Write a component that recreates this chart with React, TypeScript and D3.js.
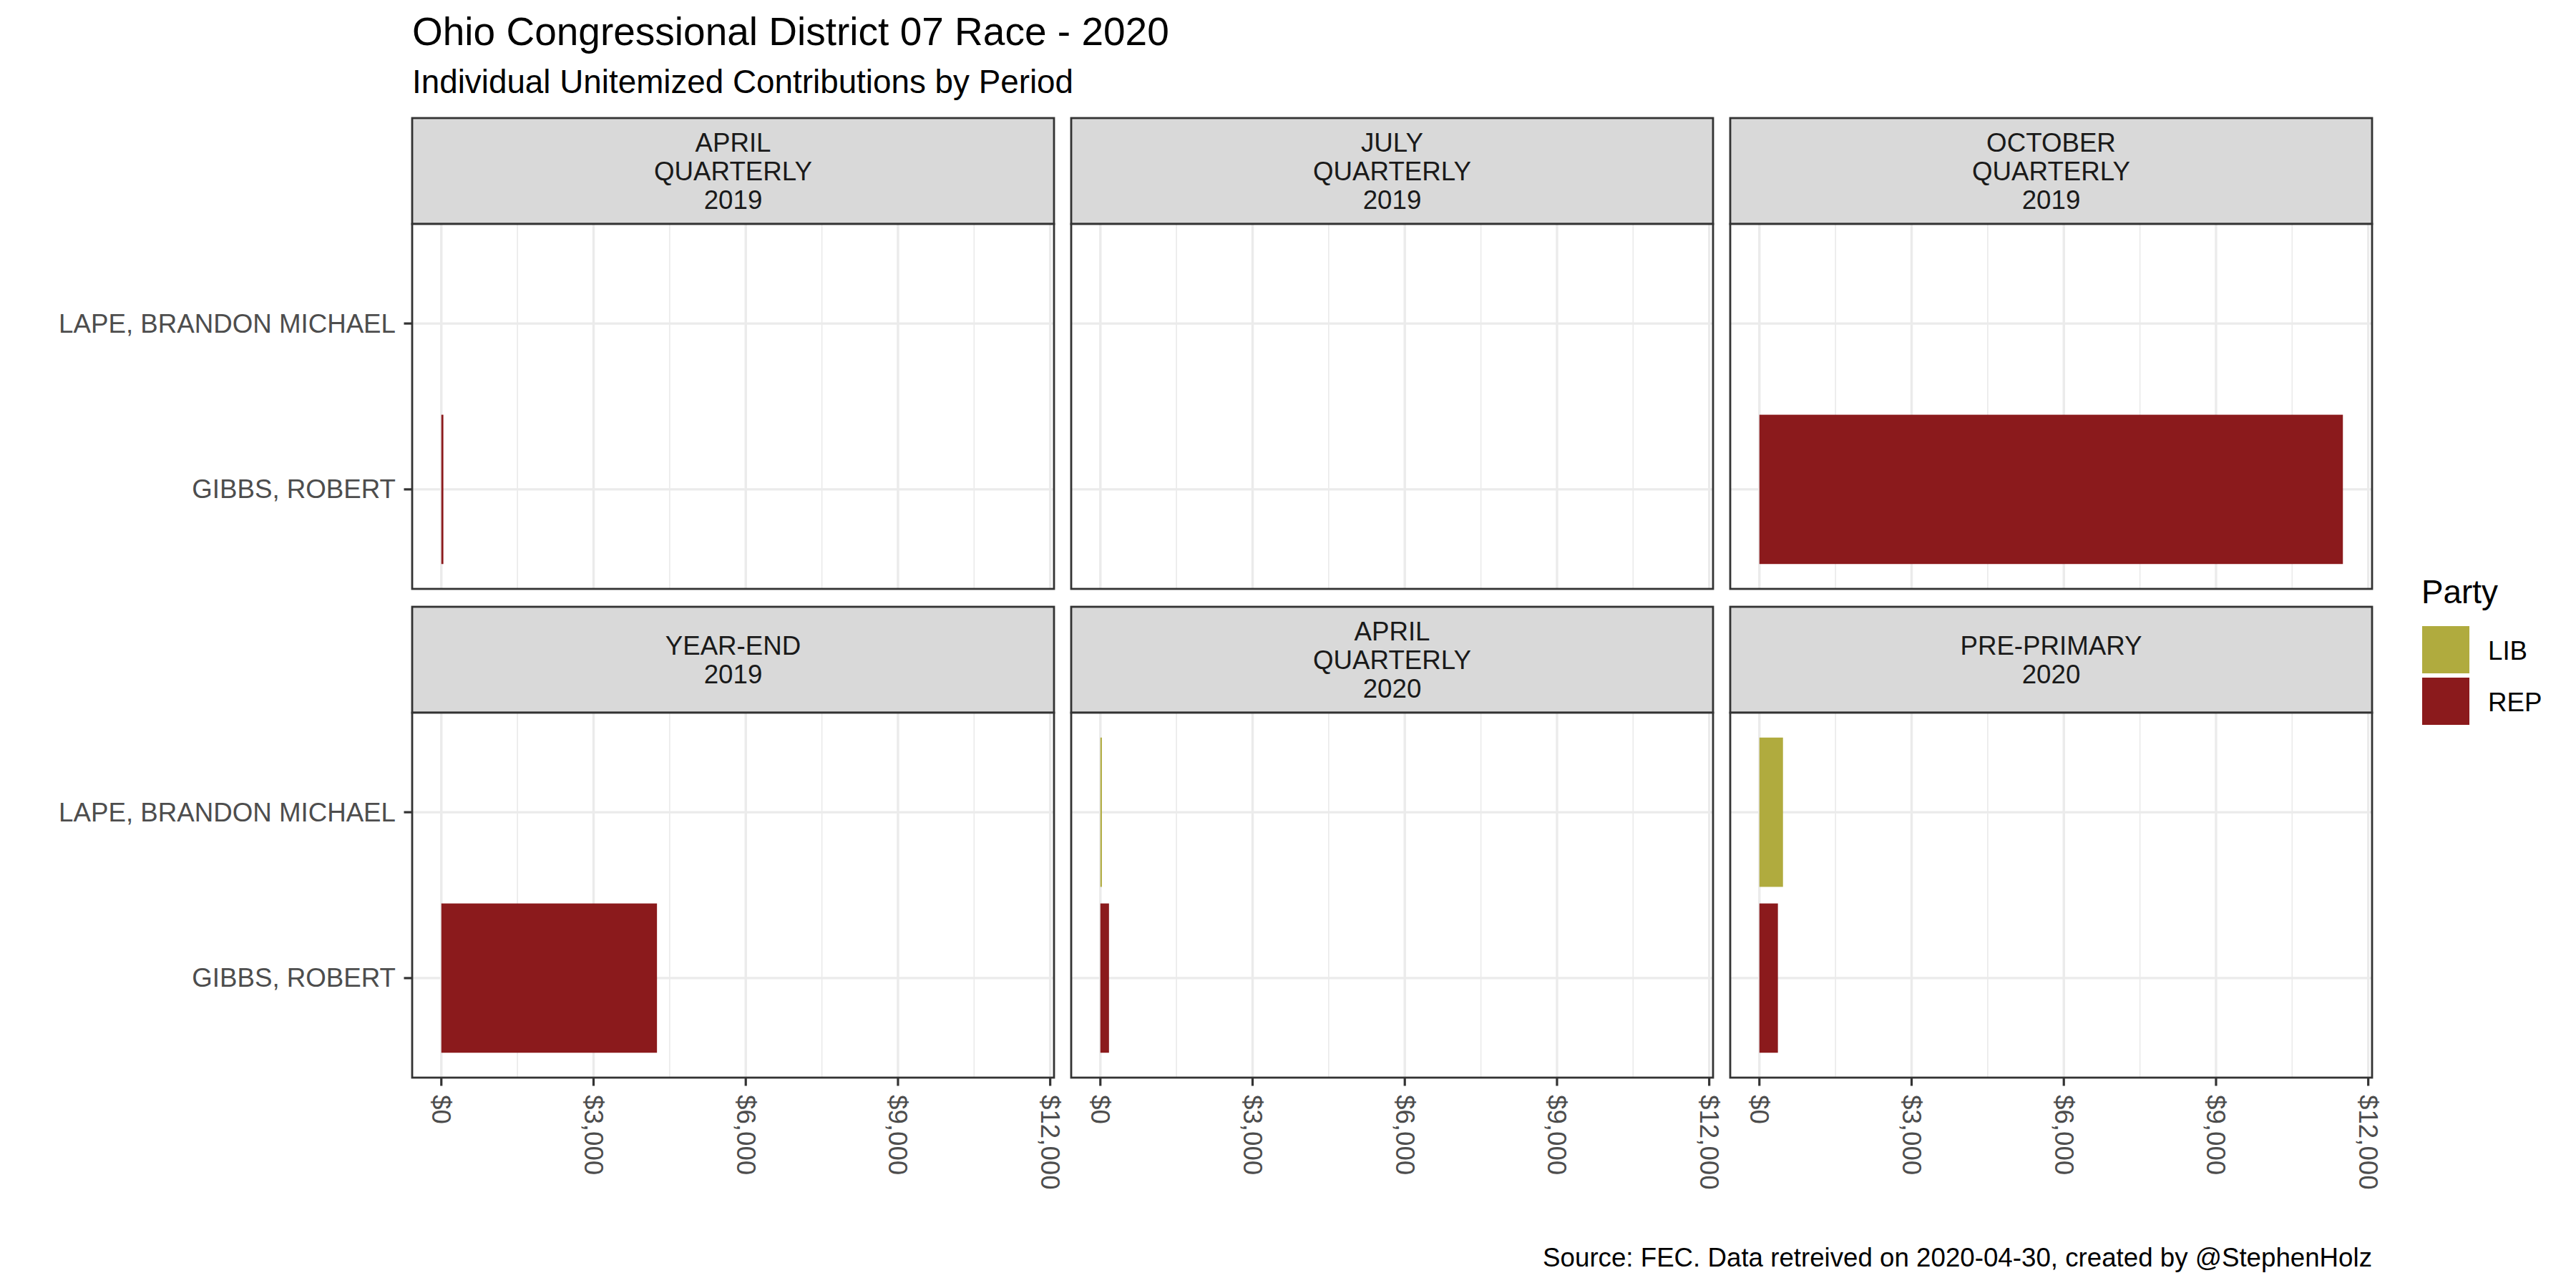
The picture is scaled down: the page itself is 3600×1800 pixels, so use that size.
import * as d3 from 'd3';

// Facet periods (strip labels, one line per entry)
const periods = [
  ['APRIL', 'QUARTERLY', '2019'],
  ['JULY', 'QUARTERLY', '2019'],
  ['OCTOBER', 'QUARTERLY', '2019'],
  ['YEAR-END', '2019'],
  ['APRIL', 'QUARTERLY', '2020'],
  ['PRE-PRIMARY', '2020'],
];
const candidates = ['LAPE, BRANDON MICHAEL', 'GIBBS, ROBERT'];
const candidateParty = ['LIB', 'REP'];
const parties = ['LIB', 'REP'];
const partyColors = ['#B0AB3E', '#8B1A1C'];

// unitemized contributions per period (null = no record)
const lapeValues: (number | null)[] = [null, null, null, null, 30, 465];
const gibbsValues: (number | null)[] = [40, null, 11500, 4250, 170, 365];

const xTicks = [0, 3000, 6000, 9000, 12000];
const xMinor = [1500, 4500, 7500, 10500];

const W = 3600;
const H = 1800;
const FONT = '"Liberation Sans", Arial, sans-serif';

const colX = [576, 1497, 2418];
const panelW = 897;
const rowTop = [165, 848];
const stripH = 148;
const panelH = 510;

export default function App() {
  const maxVal = d3.max([...lapeValues, ...gibbsValues], (d) => d ?? 0)!;
  const pad = maxVal * 0.05;
  const x = d3.scaleLinear().domain([-pad, maxVal + pad]).range([0, panelW]);
  const y = d3.scalePoint<string>().domain(candidates).range([0, panelH]).padding(0.6);
  const bandH = y.step() * 0.9;
  const color = d3.scaleOrdinal<string, string>().domain(parties).range(partyColors);
  const fmt = (v: number) => '$' + d3.format(',')(v);

  const series = [lapeValues, gibbsValues];

  return (
    <svg width={W} height={H} style={{ position: 'absolute', left: 0, top: 0 }} fontFamily={FONT}>
      <rect width={W} height={H} fill="#fff" />
      <text x={576} y={63} fontSize={55} fill="#000">Ohio Congressional District 07 Race - 2020</text>
      <text x={576} y={130} fontSize={45.8} fill="#000">Individual Unitemized Contributions by Period</text>

      {periods.map((lines, i) => {
        const col = i % 3;
        const row = Math.floor(i / 3);
        const px = colX[col];
        const sy = rowTop[row];
        const py = sy + stripH;
        const lh = 40;
        const mid = sy + stripH / 2;
        return (
          <g key={i}>
            {/* strip */}
            <rect x={px} y={sy} width={panelW} height={stripH} fill="#D9D9D9" stroke="#333333" strokeWidth={2.8} />
            <text textAnchor="middle" fontSize={36.7} fill="#1A1A1A">
              {lines.map((t, j) => (
                <tspan key={j} x={px + panelW / 2} y={mid + (j - (lines.length - 1) / 2) * lh} dominantBaseline="central">{t}</tspan>
              ))}
            </text>
            {/* panel */}
            <g transform={`translate(${px},${py})`}>
              <rect width={panelW} height={panelH} fill="#fff" />
              {xMinor.map((v) => (
                <line key={'m' + v} x1={x(v)} x2={x(v)} y1={0} y2={panelH} stroke="#EBEBEB" strokeWidth={1.7} />
              ))}
              {xTicks.map((v) => (
                <line key={'M' + v} x1={x(v)} x2={x(v)} y1={0} y2={panelH} stroke="#EBEBEB" strokeWidth={3.4} />
              ))}
              {candidates.map((c) => (
                <line key={c} x1={0} x2={panelW} y1={y(c)!} y2={y(c)!} stroke="#EBEBEB" strokeWidth={3.4} />
              ))}
              {candidates.map((c, k) => {
                const v = series[k][i];
                if (v == null) return null;
                return (
                  <rect key={c} x={x(0)} y={y(c)! - bandH / 2} width={x(v) - x(0)} height={bandH}
                    fill={color(candidateParty[k])} />
                );
              })}
              <rect width={panelW} height={panelH} fill="none" stroke="#333333" strokeWidth={2.8} />
              {col === 0 && candidates.map((c) => (
                <g key={'y' + c}>
                  <line x1={-11.5} x2={0} y1={y(c)!} y2={y(c)!} stroke="#333333" strokeWidth={3.2} />
                  <text x={-23} y={y(c)!} textAnchor="end" dominantBaseline="central" fontSize={36.7} fill="#4D4D4D">{c}</text>
                </g>
              ))}
              {row === 1 && xTicks.map((v) => (
                <g key={'x' + v}>
                  <line x1={x(v)} x2={x(v)} y1={panelH} y2={panelH + 11.5} stroke="#333333" strokeWidth={3.2} />
                  <text transform={`translate(${x(v)},${panelH + 24}) rotate(90)`} textAnchor="start"
                    dominantBaseline="central" fontSize={36.7} fill="#4D4D4D">{fmt(v)}</text>
                </g>
              ))}
            </g>
          </g>
        );
      })}

      {/* legend */}
      <text x={3384} y={843} fontSize={45.8} fill="#000">Party</text>
      {parties.map((p, k) => (
        <g key={p} transform={`translate(3385,${875 + k * 72})`}>
          <rect width={66} height={66} fill={color(p)} />
          <text x={92} y={34} dominantBaseline="central" fontSize={36.7} fill="#000">{p}</text>
        </g>
      ))}

      <text x={3315} y={1770} textAnchor="end" fontSize={36.7} fill="#000">
        Source: FEC. Data retreived on 2020-04-30, created by @StephenHolz
      </text>
    </svg>
  );
}
